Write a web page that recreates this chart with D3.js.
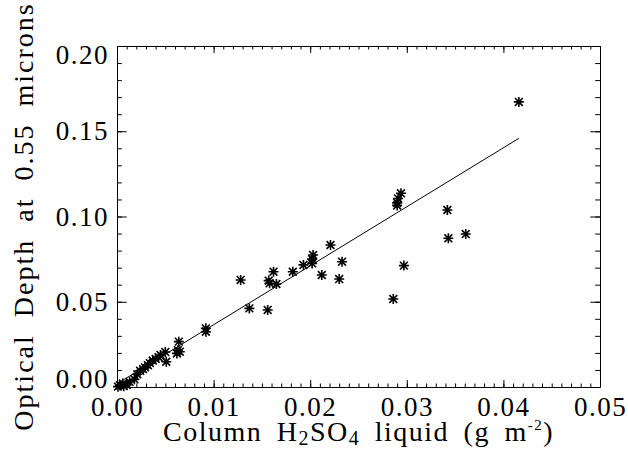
<!DOCTYPE html>
<html>
<head>
<meta charset="utf-8">
<script src="https://cdn.jsdelivr.net/npm/d3@7"></script>
<style>
  body { margin: 0; background: #fff; }
  svg { display: block; }
  text { font-family: "Liberation Serif", serif; fill: #000; }
</style>
</head>
<body>
<div id="chart"></div>
<script>
// column H2SO4 liquid (g m-2)
const columnH2SO4 = [0.0001, 0.0003, 0.0006, 0.0007, 0.0010, 0.0013, 0.0018, 0.0021, 0.0024, 0.0027,
  0.0029, 0.0032, 0.0034, 0.0037, 0.0040, 0.0043, 0.0045, 0.0050, 0.0051, 0.0062,
  0.0063, 0.0064, 0.0065, 0.0092, 0.0092, 0.0128, 0.0137, 0.0156, 0.0157, 0.0158,
  0.0162, 0.0165, 0.0182, 0.0193, 0.0202, 0.0203, 0.0202, 0.0212, 0.0221, 0.0230,
  0.0233, 0.0286, 0.0290, 0.0290, 0.0291, 0.0294, 0.0297, 0.0342, 0.0343, 0.0361,
  0.0416];
// optical depth at 0.55 microns
const opticalDepth = [0.0002, 0.0010, 0.0020, 0.0005, 0.0012, 0.0030, 0.0045, 0.0075, 0.0095, 0.0105,
  0.0115, 0.0128, 0.0140, 0.0155, 0.0165, 0.0175, 0.0188, 0.0205, 0.0148, 0.0197,
  0.0216, 0.0266, 0.0207, 0.0324, 0.0344, 0.0628, 0.0461, 0.0452, 0.0624, 0.0608,
  0.0676, 0.0604, 0.0676, 0.0716, 0.0725, 0.0774, 0.0750, 0.0657, 0.0833, 0.0633,
  0.0735, 0.0516, 0.1065, 0.1080, 0.1106, 0.1136, 0.0712, 0.1038, 0.0872, 0.0897,
  0.1672];
// linear fit
const fitIntercept = 0.0019;
const fitSlope = 3.46;

const xTicks = [0, 0.01, 0.02, 0.03, 0.04, 0.05];
const yTicks = [0, 0.05, 0.10, 0.15, 0.20];

const width = 628, height = 464;
const mLeft = 117, mRight = 600, mTop = 46, mBottom = 387;

const svg = d3.select("#chart").append("svg")
    .attr("width", width)
    .attr("height", height);

const x = d3.scaleLinear().domain([0, 0.05]).range([mLeft, mRight]);
const y = d3.scaleLinear().domain([0, 0.2]).range([mBottom, mTop]);
const fmt = d3.format(".2f");

function style(g) {
  g.selectAll("path, line").attr("stroke", "#000").attr("stroke-width", 1);
}

// minor ticks
svg.append("g").attr("transform", `translate(0,${mBottom})`)
    .call(d3.axisBottom(x).tickValues(x.ticks(50)).tickSize(-3.5).tickFormat(""))
    .call(style).call(g => g.select(".domain").remove());
svg.append("g").attr("transform", `translate(0,${mTop})`)
    .call(d3.axisTop(x).tickValues(x.ticks(50)).tickSize(-3.5).tickFormat(""))
    .call(style).call(g => g.select(".domain").remove());
svg.append("g").attr("transform", `translate(${mLeft},0)`)
    .call(d3.axisLeft(y).tickValues(y.ticks(20)).tickSize(-4.8).tickFormat(""))
    .call(style).call(g => g.select(".domain").remove());
svg.append("g").attr("transform", `translate(${mRight},0)`)
    .call(d3.axisRight(y).tickValues(y.ticks(20)).tickSize(-4.8).tickFormat(""))
    .call(style).call(g => g.select(".domain").remove());

// major ticks + labels
svg.append("g").attr("transform", `translate(0,${mBottom})`)
    .call(d3.axisBottom(x).tickValues(xTicks).tickSizeInner(-7).tickSizeOuter(0).tickFormat(fmt))
    .call(style)
    .call(g => g.selectAll("text")
        .attr("font-family", "Liberation Serif")
        .attr("font-size", 27)
        .attr("letter-spacing", 1.5)
        .attr("dy", null)
        .attr("y", 29));
svg.append("g").attr("transform", `translate(0,${mTop})`)
    .call(d3.axisTop(x).tickValues(xTicks).tickSizeInner(-7).tickSizeOuter(0).tickFormat(""))
    .call(style);
svg.append("g").attr("transform", `translate(${mLeft},0)`)
    .call(d3.axisLeft(y).tickValues(yTicks).tickSizeInner(-9.7).tickSizeOuter(0).tickFormat(fmt))
    .call(style)
    .call(g => g.selectAll("text")
        .attr("font-family", "Liberation Serif")
        .attr("font-size", 27)
        .attr("letter-spacing", 1.5)
        .attr("dy", null)
        .attr("x", -8)
        .attr("y", d => Math.min(Math.max(y(d) + 8.5, mTop + 17), mBottom) - y(d)));
svg.append("g").attr("transform", `translate(${mRight},0)`)
    .call(d3.axisRight(y).tickValues(yTicks).tickSizeInner(-9.7).tickSizeOuter(0).tickFormat(""))
    .call(style);

// fit line
const xExt = d3.extent(columnH2SO4);
svg.append("line")
    .attr("x1", x(xExt[0])).attr("y1", y(fitIntercept + fitSlope * xExt[0]))
    .attr("x2", x(xExt[1])).attr("y2", y(fitIntercept + fitSlope * xExt[1]))
    .attr("stroke", "#000").attr("stroke-width", 1);

// asterisk markers
const r = 5, d = r * 0.78;
const star = `M${-r},0H${r}M0,${-r}V${r}M${-d},${-d}L${d},${d}M${-d},${d}L${d},${-d}`;
svg.append("g").selectAll("path")
    .data(columnH2SO4.map((v, i) => [v, opticalDepth[i]]))
    .enter().append("path")
    .attr("transform", p => `translate(${x(p[0])},${y(p[1])})`)
    .attr("d", star)
    .attr("stroke", "#000")
    .attr("stroke-width", 1.6)
    .attr("fill", "none");

// axis titles
const xt = svg.append("text")
    .attr("x", (mLeft + mRight) / 2)
    .attr("y", 441)
    .attr("text-anchor", "middle")
    .attr("font-size", 28)
    .attr("letter-spacing", 1.5)
    .attr("word-spacing", 6);
xt.append("tspan").text("Column H");
xt.append("tspan").attr("font-size", 20).attr("dy", 4).text("2");
xt.append("tspan").attr("dy", -4).text("SO");
xt.append("tspan").attr("font-size", 20).attr("dy", 4).text("4");
xt.append("tspan").attr("dy", -4).text(" liquid (g m");
xt.append("tspan").attr("font-size", 15).attr("dy", -11).text("-2");
xt.append("tspan").attr("dy", 11).text(")");

svg.append("text")
    .attr("transform", `translate(33,${(mTop + mBottom) / 2}) rotate(-90)`)
    .attr("text-anchor", "middle")
    .attr("font-size", 28)
    .attr("letter-spacing", 2)
    .attr("word-spacing", 8)
    .text("Optical Depth at 0.55 microns");
</script>
</body>
</html>
